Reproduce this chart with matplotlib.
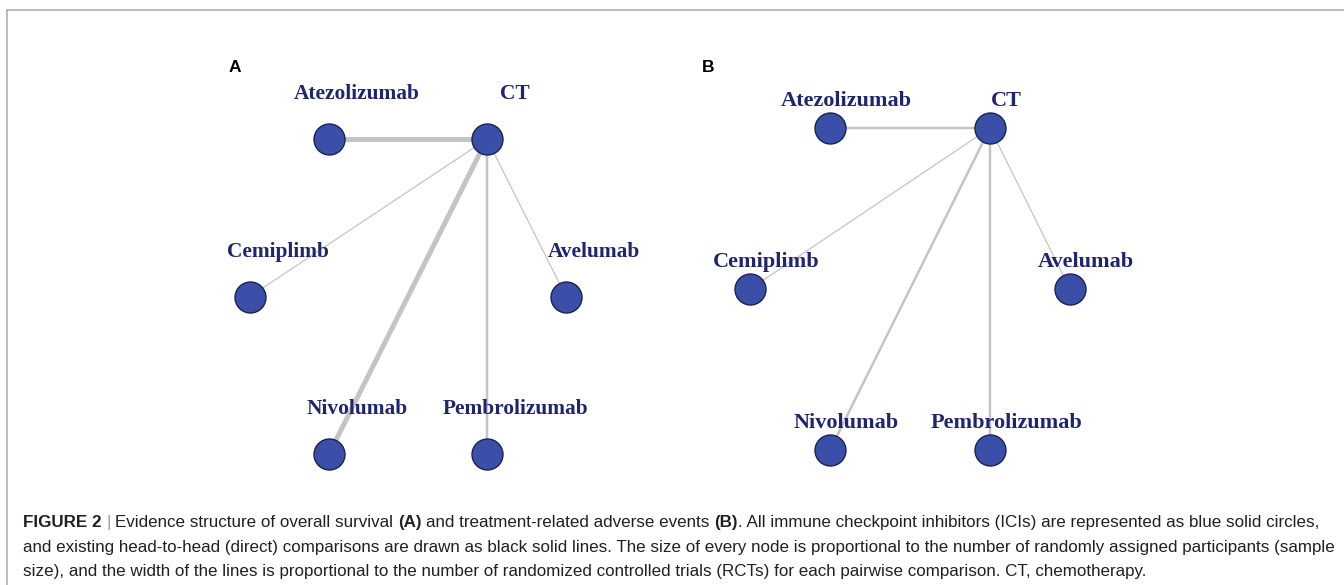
import matplotlib
matplotlib.use('Agg')
import matplotlib.pyplot as plt
from matplotlib import font_manager
from matplotlib.lines import Line2D

W, H = 1344, 585

# network data
treatments = ['CT', 'Atezolizumab', 'Cemiplimb', 'Avelumab', 'Nivolumab', 'Pembrolizumab']
layout_x = [3, 1, 0, 4, 1, 3]
layout_y = [0, 0, 1, 1, 2, 2]
comparators = ['Atezolizumab', 'Cemiplimb', 'Nivolumab', 'Pembrolizumab', 'Avelumab']
os_rcts = [4, 1, 4, 2, 1]
trae_rcts = [2, 1, 2, 2, 1]

caption_lines = [
    [("FIGURE 2", 'bold'), (" |", 'bar'), (" Evidence structure of overall survival ", 'normal'), ("(A)", 'bold'),
     (" and treatment-related adverse events ", 'normal'), ("(B)", 'bold'),
     (". All immune checkpoint inhibitors (ICIs) are represented as blue solid circles,", 'normal')],
    [("and existing head-to-head (direct) comparisons are drawn as black solid lines. The size of every "
      "node is proportional to the number of randomly assigned participants (sample", 'normal')],
    [("size), and the width of the lines is proportional to the number of randomized controlled trials "
      "(RCTs) for each pairwise comparison. CT, chemotherapy.", 'normal')],
]

NODE_FACE = '#3a4fa8'
NODE_EDGE = '#1b2350'
EDGE_COL = '#c4c4c4'
LABEL_COL = '#1f2570'
PX = 0.72  # points per pixel at dpi 100

fig = plt.figure(figsize=(13.44, 5.85), dpi=100)
fig.patch.set_facecolor('white')


def panel(x0, y0, ux, uy, rcts, dx, dy, fsize):
    gx0, gx1, gy0, gy1 = -1, 5, -0.5, 2.5
    left = x0 + gx0 * ux
    top = y0 + gy0 * uy
    w = (gx1 - gx0) * ux
    h = (gy1 - gy0) * uy
    ax = fig.add_axes([left / W, 1 - (top + h) / H, w / W, h / H])
    ax.set_xlim(gx0, gx1)
    ax.set_ylim(gy1, gy0)
    ax.axis('off')
    ct = treatments.index('CT')
    for name, n in zip(comparators, rcts):
        i = treatments.index(name)
        ax.plot([layout_x[ct], layout_x[i]], [layout_y[ct], layout_y[i]],
                color=EDGE_COL, lw=n * 1.25 * PX, solid_capstyle='butt', zorder=1, clip_on=False)
    ax.scatter(layout_x, layout_y, s=(31 * PX) ** 2, color=NODE_FACE, edgecolor=NODE_EDGE,
               linewidth=1.0, zorder=3, clip_on=False)
    for name, gx, gy in zip(treatments, layout_x, layout_y):
        ax.annotate(name, (gx, gy), xytext=(dx * PX, dy * PX), textcoords='offset points',
                    ha='center', va='baseline', family='Liberation Serif', weight='bold',
                    color=LABEL_COL, fontsize=fsize, zorder=4)
    return ax


panel(250, 139, 79, 157.5, os_rcts, 28, 40, 15.4)
panel(750, 128, 80, 161, trae_rcts, 16, 22.5, 16)

fig.text(235 / W, 1 - 67 / H, 'A', ha='center', va='center', family='Liberation Sans',
         weight='bold', fontsize=12.5)
fig.text(708 / W, 1 - 67 / H, 'B', ha='center', va='center', family='Liberation Sans',
         weight='bold', fontsize=12.5)

# border (top and left only)
fig.add_artist(Line2D([7 / W, 1], [1 - 10 / H, 1 - 10 / H], transform=fig.transFigure,
                      color='#a8a8a8', lw=1.5 * PX))
fig.add_artist(Line2D([7 / W, 7 / W], [1 - 10 / H, 0], transform=fig.transFigure,
                      color='#a8a8a8', lw=1.5 * PX))

# caption
names = {f.name for f in font_manager.fontManager.ttflist}
cap_family = 'Liberation Sans Narrow' if 'Liberation Sans Narrow' in names else 'Liberation Sans'
renderer = fig.canvas.get_renderer()


def seg_width(s, weight, size):
    t1 = fig.text(0, 0, 'X' + s + 'X', fontsize=size, weight=weight, family=cap_family)
    t2 = fig.text(0, 0, 'XX', fontsize=size, weight=weight, family=cap_family)
    w = t1.get_window_extent(renderer).width - t2.get_window_extent(renderer).width
    t1.remove()
    t2.remove()
    return w


base = 10.0
w3 = sum(seg_width(s, wt, base) for s, wt in caption_lines[2])
cap_size = base * (1148 - 23) / w3
baselines = [527, 552, 576]
for segs, yb in zip(caption_lines, baselines):
    x = 23
    for s, kind in segs:
        wt = 'normal' if kind == 'bar' else kind
        col = '#9a9a9a' if kind == 'bar' else '#231f20'
        lead = len(s) - len(s.lstrip(' '))
        xd = x + (seg_width(' ' * lead, wt, cap_size) if lead else 0)
        fig.text(xd / W, 1 - yb / H, s.strip(' '), ha='left', va='baseline', fontsize=cap_size,
                 weight=wt, family=cap_family, color=col)
        x += seg_width(s, wt, cap_size)

fig.savefig('out.png', dpi=100, facecolor='white')
